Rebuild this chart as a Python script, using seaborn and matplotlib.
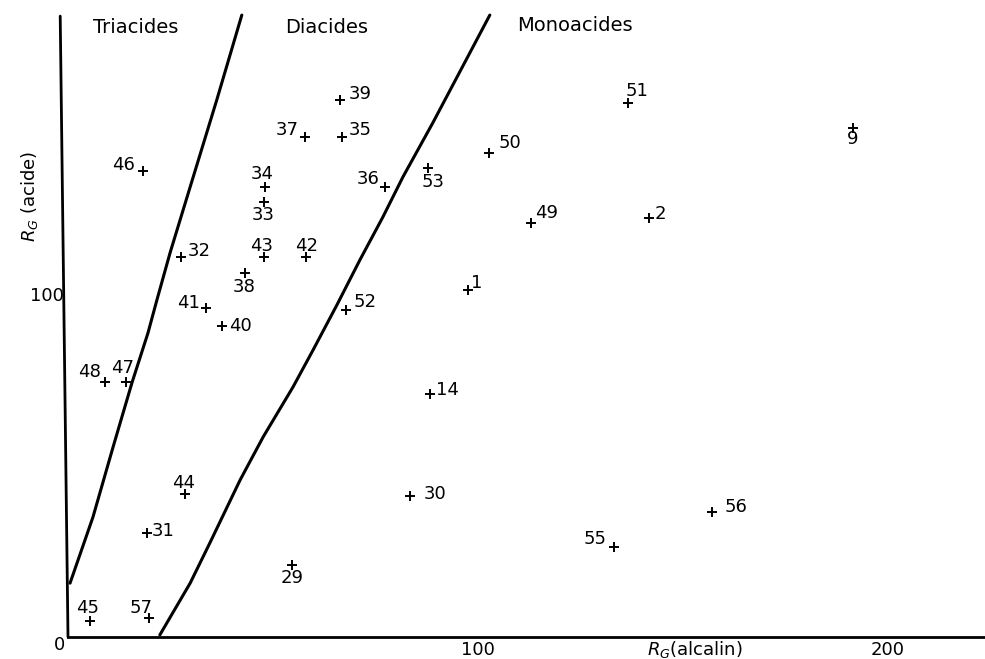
import numpy as np
import pandas as pd
import matplotlib
matplotlib.use("Agg")
import matplotlib.pyplot as plt
import seaborn as sns

# compound numbers and their coordinates (R_G alcalin, R_G acide)
compound_ids = ["39", "37", "35", "46", "34", "33", "36", "53", "32", "43", "42",
                "38", "41", "40", "52", "1", "51", "50", "9", "49", "2", "48",
                "47", "14", "44", "30", "31", "29", "45", "57", "55", "56"]
rg_alcalin = [66.3, 57.8, 66.8, 18.3, 48.0, 47.8, 77.3, 87.8, 27.6, 47.8, 58.0,
              43.2, 33.7, 37.6, 67.8, 97.6, 136.6, 102.7, 191.5, 112.9, 141.7, 9.0,
              14.1, 88.3, 28.5, 83.4, 19.3, 54.6, 5.4, 19.8, 133.2, 157.1]
rg_acide = [156.6, 145.8, 145.8, 135.9, 131.2, 126.8, 131.2, 136.7, 110.8, 110.8, 110.8,
            106.1, 95.9, 90.7, 95.3, 101.2, 155.7, 141.1, 148.4, 120.7, 122.2, 74.3,
            74.3, 70.8, 41.7, 41.1, 30.3, 21.0, 4.7, 5.5, 26.2, 36.4]

# boundary between triacides and diacides (hand-drawn curve)
tri_di_x = [0.5, 6.1, 11.0, 15.6, 19.5, 21.7, 24.9, 29.8, 36.3, 42.4]
tri_di_y = [15.7, 35.0, 55.4, 74.1, 88.6, 98.3, 112.0, 131.2, 156.6, 181.3]

# boundary between diacides and monoacides
di_mono_x = [22.4, 29.8, 34.6, 42.0, 47.6, 54.9, 59.8, 65.6, 71.2, 76.8, 81.7, 89.0, 102.9]
di_mono_y = [0.6, 15.7, 27.4, 45.8, 58.3, 72.9, 83.7, 96.8, 109.9, 122.4, 134.1, 149.9, 181.3]

region_names = ["Triacides", "Diacides", "Monoacides"]

# label placement relative to the "+" (pixels, y up) - layout only
label_offsets = [(20, 6), (-18, 7), (18, 7), (-20, 6), (-3, 13), (-1, -13), (-17, 8),
                 (5, -14), (18, 6), (-2, 11), (1, 11), (-1, -14), (-18, 5), (18, 0),
                 (19, 8), (9, 7), (9, 12), (21, 10), (0, -11), (16, 10), (12, 4),
                 (-15, 10), (-3, 14), (17, 4), (-1, 11), (25, 2), (16, 2), (0, -13),
                 (-3, 13), (-8, 10), (-19, 8), (24, 5)]

sns.set_theme(style="white")
plt.rcParams['font.family'] = ['DejaVu Sans']
plt.rcParams['text.color'] = 'black'
plt.rcParams['axes.labelcolor'] = 'black'
plt.rcParams['xtick.color'] = 'black'
plt.rcParams['ytick.color'] = 'black'

df = pd.DataFrame({"id": compound_ids, "x": rg_alcalin, "y": rg_acide})

fig = plt.figure(figsize=(9.85, 6.59), dpi=100)
ax = fig.add_axes([68 / 985, 22 / 659, 917 / 985, 637 / 659])

sns.scatterplot(data=df, x="x", y="y", marker="+", s=45, color="black",
                linewidth=1.4, ax=ax, zorder=3)

for xs, ys in [(tri_di_x, tri_di_y), (di_mono_x, di_mono_y)]:
    sns.lineplot(x=xs, y=ys, sort=False, estimator=None, color="black",
                 linewidth=2.2, ax=ax)

# slightly slanted ordinate line as in the drawing
ax.plot([0, -1.9], [0, 181], color="black", linewidth=2, clip_on=False)

for cid, x, y, (dx, dy) in zip(compound_ids, rg_alcalin, rg_acide, label_offsets):
    ax.annotate(cid, (x, y), xytext=(dx, dy), textcoords="offset pixels",
                ha="center", va="center", fontsize=13)

for name, (tx, ty) in zip(region_names, [(16.6, 177.8), (63.2, 177.8), (123.7, 178.4)]):
    ax.text(tx, ty, name, ha="center", va="center", fontsize=14)

ax.set_xlim(0, 223.7)
ax.set_ylim(0, 185.7)
ax.set_xticks([100, 200])
ax.set_yticks([100])
ax.tick_params(length=0, labelsize=13, pad=3)
ax.text(-2, -2.2, "0", ha="center", va="center", fontsize=13, clip_on=False)

for side in ["top", "right", "left"]:
    ax.spines[side].set_visible(False)
ax.spines["bottom"].set_color("black")
ax.spines["bottom"].set_linewidth(2)

ax.set_xlabel(r"$R_G$(alcalin)", fontsize=13)
ax.set_ylabel(r"$R_G$ (acide)", fontsize=13)
ax.xaxis.set_label_coords(0.683, -0.003)
ax.yaxis.set_label_coords(-0.031, 0.692)

fig.savefig("out.png", dpi=100)
